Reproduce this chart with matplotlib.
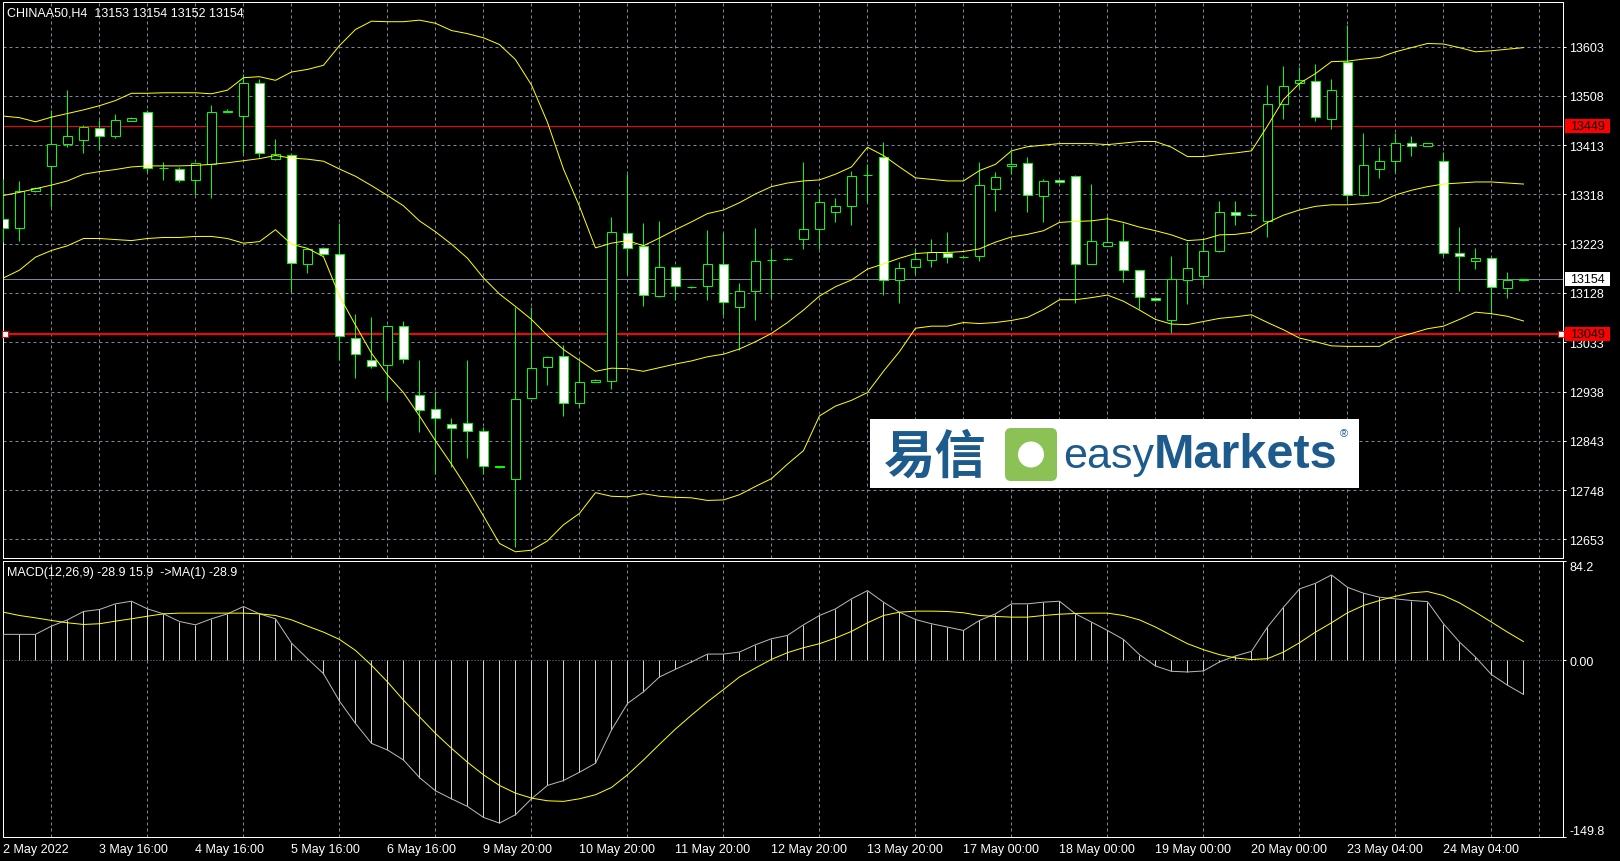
import numpy as np
import matplotlib.pyplot as plt
from matplotlib.patches import Rectangle, FancyBboxPatch, Circle

# CHINAA50 H4 bars, 2 May - 24 May 2022
opens = [13271, 13253, 13324, 13373, 13416, 13423, 13447, 13431, 13460, 13476, 13368, 13367,
         13346, 13377, 13477, 13469, 13533, 13387, 13394, 13184, 13215, 13204, 13042, 12999,
         12989, 13064, 12931, 12904, 12875, 12877, 12861, 12794, 12770, 12926, 12986, 13006,
         12915, 12957, 12958, 13244, 13219, 13122, 13178, 13140, 13142, 13184, 13100, 13131,
         13192, 13193, 13233, 13252, 13285, 13296, 13356, 13391, 13153, 13178, 13192, 13205,
         13197, 13200, 13329, 13372, 13379, 13315, 13346, 13354, 13184, 13219, 13228, 13172,
         13119, 13076, 13153, 13161, 13208, 13284, 13279, 13267, 13493, 13532, 13537, 13464,
         13574, 13317, 13367, 13382, 13418, 13412, 13382, 13206, 13190, 13196, 13138, 13153]
highs = [13347, 13343, 13333, 13481, 13519, 13452, 13462, 13473, 13467, 13481, 13381, 13371,
         13379, 13491, 13482, 13550, 13540, 13424, 13395, 13215, 13217, 13262, 13088, 13082,
         13066, 13074, 12998, 12939, 12886, 12999, 12870, 12795, 13100, 13100, 13006, 13028,
         12997, 12962, 13274, 13357, 13262, 13266, 13179, 13142, 13250, 13243, 13148, 13253,
         13215, 13195, 13381, 13329, 13312, 13364, 13376, 13419, 13188, 13215, 13233, 13246,
         13199, 13381, 13361, 13402, 13390, 13348, 13347, 13355, 13338, 13277, 13263, 13173,
         13120, 13200, 13227, 13230, 13306, 13306, 13281, 13529, 13566, 13564, 13569, 13540,
         13645, 13436, 13410, 13436, 13430, 13418, 13400, 13256, 13214, 13197, 13169, 13154]
lows = [13227, 13229, 13322, 13293, 13410, 13398, 13404, 13427, 13459, 13362, 13346, 13342,
        13317, 13311, 13476, 13397, 13391, 13384, 13129, 13166, 13202, 12998, 12964, 12984,
        12922, 12993, 12860, 12779, 12793, 12810, 12779, 12790, 12639, 12925, 12951, 12891,
        12908, 12957, 12943, 13165, 13103, 13121, 13115, 13138, 13114, 13086, 13019, 13076,
        13119, 13191, 13213, 13212, 13265, 13259, 13304, 13124, 13108, 13165, 13179, 13186,
        13195, 13190, 13286, 13357, 13284, 13265, 13340, 13108, 13184, 13218, 13150, 13098,
        13113, 13051, 13107, 13143, 13207, 13259, 13277, 13236, 13464, 13524, 13460, 13444,
        13305, 13315, 13350, 13362, 13393, 13411, 13200, 13131, 13174, 13088, 13119, 13152]
closes = [13253, 13324, 13331, 13416, 13431, 13448, 13431, 13462, 13465, 13368, 13369, 13346,
          13378, 13476, 13479, 13532, 13397, 13395, 13186, 13213, 13204, 13045, 13010, 12987,
          13064, 13001, 12902, 12886, 12868, 12861, 12795, 12793, 12924, 12984, 13005, 12915,
          12957, 12961, 13246, 13214, 13124, 13179, 13142, 13140, 13184, 13111, 13131, 13190,
          13192, 13193, 13252, 13304, 13296, 13354, 13356, 13153, 13176, 13193, 13207, 13198,
          13197, 13337, 13352, 13376, 13316, 13344, 13341, 13184, 13228, 13226, 13173, 13121,
          13115, 13155, 13177, 13209, 13284, 13279, 13279, 13493, 13528, 13538, 13467, 13520,
          13317, 13375, 13383, 13418, 13412, 13417, 13206, 13200, 13196, 13140, 13153, 13154]

# Bollinger bands as drawn on the chart
bb_upper = [13469, 13466, 13458, 13467, 13474, 13481, 13489, 13499, 13513, 13513, 13514, 13514,
            13514, 13512, 13519, 13543, 13545, 13538, 13554, 13559, 13567, 13605, 13636, 13652,
            13651, 13651, 13654, 13648, 13634, 13628, 13620, 13607, 13578, 13529, 13457, 13367,
            13295, 13215, 13224, 13229, 13219, 13234, 13250, 13265, 13281, 13288, 13302, 13319,
            13333, 13340, 13344, 13346, 13357, 13371, 13409, 13393, 13371, 13350, 13347, 13344,
            13344, 13364, 13376, 13402, 13410, 13413, 13416, 13416, 13416, 13414, 13417, 13420,
            13420, 13409, 13391, 13391, 13395, 13398, 13402, 13450, 13501, 13532, 13551, 13574,
            13575, 13579, 13582, 13593, 13601, 13609, 13608, 13601, 13593, 13595, 13598, 13601]
bb_middle = [13316, 13322, 13329, 13336, 13344, 13357, 13362, 13366, 13371, 13373, 13373, 13373,
             13374, 13376, 13379, 13383, 13387, 13393, 13388, 13386, 13382, 13367, 13353, 13335,
             13316, 13296, 13267, 13246, 13222, 13195, 13157, 13126, 13102, 13077, 13046, 13019,
             12998, 12977, 12983, 12982, 12977, 12984, 12991, 12997, 13005, 13010, 13020, 13034,
             13050, 13071, 13095, 13122, 13140, 13153, 13174, 13184, 13195, 13204, 13206, 13206,
             13208, 13213, 13226, 13236, 13241, 13248, 13264, 13266, 13267, 13271, 13264, 13255,
             13248, 13240, 13229, 13231, 13240, 13241, 13245, 13264, 13278, 13288, 13295, 13298,
             13298, 13300, 13303, 13317, 13326, 13333, 13338, 13340, 13342, 13342, 13340, 13338]
bb_lower = [13157, 13172, 13197, 13210, 13219, 13233, 13233, 13231, 13229, 13233, 13235, 13235,
            13237, 13237, 13233, 13224, 13227, 13250, 13222, 13214, 13198, 13122, 13066, 13012,
            12970, 12936, 12891, 12843, 12798, 12750, 12698, 12645, 12629, 12632, 12650, 12681,
            12703, 12743, 12736, 12735, 12741, 12736, 12734, 12733, 12728, 12729, 12739, 12755,
            12770, 12798, 12824, 12891, 12910, 12921, 12936, 12977, 13015, 13060, 13064, 13064,
            13071, 13069, 13071, 13075, 13081, 13096, 13115, 13115, 13119, 13124, 13112, 13095,
            13077, 13068, 13067, 13073, 13079, 13082, 13086, 13071, 13057, 13041, 13034, 13026,
            13025, 13025, 13025, 13041, 13050, 13059, 13064, 13077, 13091, 13088, 13083, 13074]

# MACD(12,26,9): main as histogram, signal as line
macd_main = [22.0, 22.0, 22.0, 29.0, 34.3, 41.4, 43.1, 47.9, 50.1, 43.6, 39.4, 32.9,
             30.1, 35.2, 39.4, 45.6, 39.4, 35.2, 14.6, 1.4, -11.3, -34.6, -53.5, -70.4,
             -76.0, -84.5, -99.4, -110.6, -117.4, -123.9, -133.2, -138.0, -130.9, -117.4, -106.1, -101.9,
             -94.9, -87.3, -59.1, -36.6, -26.7, -14.1, -7.6, -1.4, 5.3, 5.3, 7.0, 13.2,
             18.3, 21.1, 30.1, 38.0, 43.6, 52.1, 59.1, 49.3, 40.8, 34.6, 31.0, 28.2,
             25.3, 33.8, 39.4, 47.9, 47.9, 49.3, 50.1, 39.4, 32.4, 25.3, 17.7, 4.8,
             -4.8, -9.3, -9.9, -9.0, -1.4, 3.7, 7.6, 28.2, 45.0, 60.5, 65.3, 72.4,
             61.9, 56.9, 53.5, 52.1, 50.7, 49.8, 31.0, 15.5, 2.8, -12.1, -21.1, -28.9]
macd_signal = [40.8, 38.0, 36.0, 33.8, 31.8, 30.4, 31.0, 33.2, 35.2, 37.4, 39.4, 40.0,
               40.0, 40.0, 40.0, 40.0, 39.4, 38.0, 34.3, 29.0, 23.9, 17.7, 8.4, -4.2,
               -18.3, -33.8, -47.9, -61.9, -74.6, -86.4, -97.1, -106.1, -112.6, -116.8, -119.1, -119.6,
               -117.4, -114.0, -107.8, -97.1, -84.5, -71.2, -58.3, -46.5, -35.2, -24.8, -14.1, -6.5,
               0.8, 6.5, 10.7, 14.1, 18.9, 24.5, 31.8, 38.0, 40.8, 41.7, 41.7, 41.4,
               40.3, 38.0, 37.2, 36.6, 36.6, 38.0, 39.1, 39.7, 40.0, 40.0, 38.0, 34.3,
               28.2, 21.1, 14.1, 9.0, 4.8, 2.0, 0.6, 1.4, 7.0, 14.9, 23.9, 31.8,
               40.3, 46.5, 50.7, 54.3, 57.2, 58.3, 54.9, 48.7, 40.8, 32.4, 23.9, 15.9]

price_ticks = [12653, 12748, 12843, 12938, 13033, 13128, 13223, 13318, 13413, 13508, 13603]
date_pos = [0, 6, 12, 18, 24, 30, 36, 42, 48, 54, 60, 66, 72, 78, 84, 90]
date_labels = ["2 May 2022", "3 May 16:00", "4 May 16:00", "5 May 16:00", "6 May 16:00",
               "9 May 20:00", "10 May 20:00", "11 May 20:00", "12 May 20:00", "13 May 20:00",
               "17 May 00:00", "18 May 00:00", "19 May 00:00", "20 May 00:00",
               "23 May 04:00", "24 May 04:00"]
macd_ticks = [-149.8, 0.0, 84.2]
macd_tick_labels = ["-149.8", "0.00", "84.2"]

level_hi = 13449
level_lo = 13049
bid = 13154
title = "CHINAA50,H4  13153 13154 13152 13154"
macd_title = "MACD(12,26,9) -28.9 15.9  ->MA(1) -28.9"

plt.rcParams['font.family'] = ['Liberation Sans', 'DejaVu Sans']

W, H = 1620, 862
PX = 0.72          # one pixel in points at dpi 100
LIME = '#00ff00'
GRID = '#778899'
BLUE = '#1d5b8d'

fig = plt.figure(figsize=(W / 100, H / 100), dpi=100, facecolor='black')


def px_axes(x0, y0, x1, y1):
    return fig.add_axes([x0 / W, 1 - y1 / H, (x1 - x0) / W, (y1 - y0) / H])


ax = px_axes(3, 3, 1563, 559)
axm = px_axes(3, 562, 1563, 838)
XLIM = (-0.03, 97.47)

# ---------------- price panel ----------------
ax.set_facecolor('black')
x = np.arange(len(closes))
o = np.array(opens)
c = np.array(closes)
bull = c >= o

ax.axhline(level_hi, color='red', lw=PX, zorder=2)
ax.axhline(level_lo, color='red', lw=2 * PX, zorder=2)
ax.axhline(bid, color=GRID, lw=PX, zorder=2)
ax.plot([0.0013, 0.9987], [level_lo, level_lo], transform=ax.get_yaxis_transform(),
        ls='none', marker='s', ms=4, mfc='white', mec='red', mew=PX, clip_on=False, zorder=6)

ax.vlines(x, lows, highs, color=LIME, lw=PX, zorder=3)
ax.bar(x, np.abs(c - o), bottom=np.minimum(o, c), width=0.6,
       color=np.where(bull, 'black', 'white'), edgecolor=LIME, linewidth=PX, zorder=4)

for band in (bb_upper, bb_middle, bb_lower):
    ax.plot(x, band, color='yellow', lw=PX, zorder=5)

ax.set_xlim(*XLIM)
ax.set_ylim(12617, 13689)
ax.set_xticks(np.arange(3, 97, 3))
ax.set_yticks(price_ticks)
ax.set_yticklabels([str(p) for p in price_ticks])
ax.grid(color=GRID, ls=(0, (3, 3)), lw=PX, zorder=1)
ax.set_axisbelow(True)
ax.yaxis.tick_right()
ax.tick_params(axis='x', length=0, labelbottom=False)
ax.tick_params(axis='y', colors='white', length=2.2, width=PX, pad=2.5, labelsize=9)
for s in ax.spines.values():
    s.set_color('white')
    s.set_linewidth(PX)

ax.text(0.0026, 0.982, title, transform=ax.transAxes, color='white', fontsize=9, va='center')

# boxed price labels on the right
yt = ax.get_yaxis_transform()
for price, fc in [(level_hi, 'red'), (bid, 'white'), (level_lo, 'red')]:
    ax.add_patch(Rectangle((1.0013, price - 13.5), 0.0288, 27, transform=yt, facecolor=fc,
                           edgecolor='none', clip_on=False, zorder=10))
    ax.text(1.0045, price, str(price), transform=yt, color='black', fontsize=9,
            va='center', ha='left', clip_on=False, zorder=11)

# ---------------- MACD panel ----------------
axm.set_facecolor('black')
axm.axhline(0, color=GRID, ls=(0, (1, 2)), lw=PX, zorder=1)
axm.vlines(x, 0, macd_main, color='#d4d4d4', lw=PX, zorder=3)
axm.plot(x, macd_main, color='#b8b8b8', lw=PX, zorder=3)
axm.plot(x, macd_signal, color='yellow', lw=PX, zorder=4)

axm.set_xlim(*XLIM)
axm.set_ylim(-149.8, 84.2)
axm.set_xticks(date_pos)
axm.set_xticklabels(date_labels, ha='left')
axm.set_xticks(np.arange(3, 97, 3), minor=True)
axm.grid(which='minor', axis='x', color=GRID, ls=(0, (3, 3)), lw=PX, zorder=1)
axm.tick_params(axis='x', which='both', length=0, colors='white', labelsize=9, pad=4)
axm.yaxis.tick_right()
axm.set_yticks(macd_ticks)
axm.set_yticklabels(macd_tick_labels)
axm.tick_params(axis='y', colors='white', length=2.2, width=PX, pad=2.5, labelsize=9)
ylabs = axm.get_yticklabels()
ylabs[0].set_va('bottom')
ylabs[-1].set_va('top')
for s in axm.spines.values():
    s.set_color('white')
    s.set_linewidth(PX)

axm.text(0.0026, 0.96, macd_title, transform=axm.transAxes, color='white', fontsize=9, va='center')

# ---------------- easyMarkets watermark ----------------
ov = fig.add_axes([0, 0, 1, 1], zorder=20)
ov.set_xlim(0, W)
ov.set_ylim(H, 0)
ov.axis('off')
ov.add_patch(Rectangle((870, 420), 489, 69, facecolor='white', edgecolor='none'))
ov.text(935, 457, '易信', family=['Noto Sans CJK SC', 'DejaVu Sans'], weight='bold',
        fontsize=37, color=BLUE, ha='center', va='center')
ov.add_patch(FancyBboxPatch((1005, 429), 52, 53, boxstyle='round,pad=0,rounding_size=6',
                            facecolor='#8cc155', edgecolor='none'))
ov.add_patch(Circle((1031, 455.5), 13, facecolor='white', edgecolor='none'))
ov.text(1154, 468, 'easy', fontsize=31, color=BLUE, ha='right', va='baseline')
ov.text(1154, 468, 'Markets', fontsize=35, weight='bold', color=BLUE, ha='left', va='baseline')
ov.text(1344, 434, '®', fontsize=8, color=BLUE, ha='center', va='center')

fig.savefig('out.png', dpi=100, facecolor='black')
